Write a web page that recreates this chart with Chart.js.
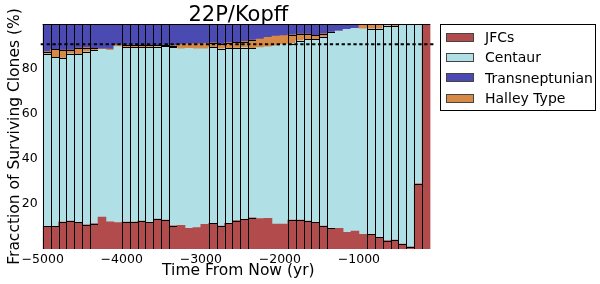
<!DOCTYPE html>
<html>
<head>
<meta charset="utf-8">
<script src="https://cdn.jsdelivr.net/npm/chart.js@4.4.1/dist/chart.umd.min.js"></script>
<style>
  html, body { margin: 0; padding: 0; background: #fff; }
  #wrap { position: relative; width: 600px; height: 284px; }
  #title {
    position: absolute; top: 4px; transform: translateX(-50%);
    font: 21px/21px "DejaVu Sans", sans-serif; color: #000; white-space: nowrap;
  }
  #legend {
    position: absolute; left: 440px; top: 24px; width: 154px; height: 85px;
    border: 1px solid #000; font: 14px "DejaVu Sans", sans-serif; color: #000;
  }
  .item { position: absolute; left: 5px; height: 20px; display: flex; align-items: center; white-space: nowrap; }
  .sw { width: 28px; height: 9px; border: 1px solid #444; box-sizing: border-box; margin-right: 11px; }
</style>
</head>
<body>
<div id="wrap">
  <canvas id="chart" width="600" height="284"></canvas>
  <div id="title">22P/Kopff</div>
  <div id="legend"></div>
</div>
<script>
// bin centres (yr from now), 100 yr bins
const binCenters = [-4950, -4850, -4750, -4650, -4550, -4450, -4350, -4250, -4150, -4050,
  -3950, -3850, -3750, -3650, -3550, -3450, -3350, -3250, -3150, -3050,
  -2950, -2850, -2750, -2650, -2550, -2450, -2350, -2250, -2150, -2050,
  -1950, -1850, -1750, -1650, -1550, -1450, -1350, -1250, -1150, -1050,
  -950, -850, -750, -650, -550, -450, -350, -250, -150];

// fraction of surviving clones (%)
const jfc = [10.1, 10.1, 12.0, 12.4, 11.9, 10.7, 11.3, 14.2, 12.1, 11.7,
  12.0, 12.0, 12.4, 11.9, 13.3, 12.9, 10.3, 10.5, 9.2, 9.5,
  11.0, 11.4, 10.2, 11.4, 12.6, 13.2, 13.8, 13.5, 13.6, 11.1,
  11.1, 12.9, 12.9, 12.4, 11.9, 10.2, 9.2, 9.2, 7.4, 8.0,
  6.5, 6.5, 5.2, 3.7, 4.0, 2.2, 1.0, 29.0, 100];
const centaur = [76.6, 75.1, 72.9, 74.3, 74.6, 76.9, 77.0, 74.5, 76.2, 78.3,
  77.6, 77.6, 77.2, 77.7, 76.5, 77.2, 79.3, 78.5, 80.0, 79.5,
  78.0, 78.2, 78.8, 77.8, 76.7, 76.3, 75.4, 76.0, 76.2, 79.2,
  79.7, 78.4, 79.7, 80.8, 81.3, 84.0, 87.1, 87.7, 90.2, 90.1,
  91.4, 91.4, 92.7, 95.6, 95.0, 97.6, 99.0, 71.0, 0];
const halley = [1.0, 3.5, 3.5, 1.7, 2.8, 1.9, 0.9, 0.3, 0.6, 0.6,
  1.0, 1.0, 0.9, 0.9, 0.7, 0.5, 0.8, 1.8, 2.0, 2.2,
  2.4, 2.0, 2.0, 2.5, 2.6, 2.7, 3.6, 3.8, 4.3, 4.3,
  4.0, 3.9, 2.9, 2.3, 1.8, 1.4, 0.1, 0, 0, 0,
  2.1, 2.1, 2.1, 0.7, 1.0, 0.2, 0, 0, 0];
const transneptunian = [12.3, 11.3, 11.6, 11.6, 10.7, 10.5, 10.8, 11.0, 11.1, 9.4,
  9.4, 9.4, 9.5, 9.5, 9.5, 9.4, 9.6, 9.2, 8.8, 8.8,
  8.6, 8.4, 9.0, 8.3, 8.1, 7.8, 7.2, 6.7, 5.9, 5.4,
  5.2, 4.8, 4.5, 4.5, 5.0, 4.4, 3.6, 3.1, 2.4, 1.9,
  0, 0, 0, 0, 0, 0, 0, 0, 0];

const xTicks = [-5000, -4000, -3000, -2000, -1000];
const yTicks = [20, 40, 60, 80];
const threshold = 91;
const legendOrder = ["JFCs", "Centaur", "Transneptunian", "Halley Type"];

// bars whose black outline survives at this resolution
const edgedBars = [0, 1, 2, 3, 4, 5, 6, 10, 11, 12, 13, 14, 15, 16, 21, 22, 23, 24, 25, 26,
  31, 32, 33, 34, 35, 36, 41, 42, 43, 44, 45, 46, 47, 48];

const FONT = "DejaVu Sans";
const toXY = (vals) => vals.map((v, i) => ({ x: binCenters[i], y: v }));

function series(label, vals, color) {
  return {
    label: label,
    data: toXY(vals),
    backgroundColor: color,
    borderWidth: 0,
    barPercentage: 1,
    categoryPercentage: 1,
  };
}

// crisp black outlines on the edged bars, taken from the bar elements
const barEdges = {
  id: "barEdges",
  afterDatasetsDraw(chart) {
    const ctx = chart.ctx;
    const metas = chart.data.datasets.map((_, d) => chart.getDatasetMeta(d));
    ctx.save();
    ctx.strokeStyle = "#000";
    ctx.lineWidth = 1;
    ctx.beginPath();
    edgedBars.forEach((i) => {
      let top = Infinity, bottom = -Infinity, left = null, right = null;
      metas.forEach((m) => {
        const bar = m.data[i];
        if (!bar) return;
        const { x, y, base, width } = bar.getProps(["x", "y", "base", "width"], true);
        if (Math.abs(base - y) < 0.5) return;
        left = x - width / 2;
        right = x + width / 2;
        top = Math.min(top, y);
        bottom = Math.max(bottom, base);
        const yy = Math.round(y) + 0.5;
        ctx.moveTo(Math.round(left), yy);
        ctx.lineTo(Math.round(right), yy);
      });
      if (left === null) return;
      const xx = Math.round(left) + 0.5;
      ctx.moveTo(xx, top);
      ctx.lineTo(xx, bottom);
    });
    ctx.stroke();
    ctx.restore();
  },
};

const refLines = {
  id: "refLines",
  afterDatasetsDraw(chart) {
    const { ctx, chartArea, scales } = chart;
    ctx.save();
    ctx.strokeStyle = "#000";
    ctx.lineWidth = 1;
    const yTop = Math.round(scales.y.getPixelForValue(100)) + 0.5;
    ctx.beginPath();
    ctx.moveTo(chartArea.left, yTop);
    ctx.lineTo(scales.x.getPixelForValue(-100), yTop);
    ctx.stroke();
    const yT = scales.y.getPixelForValue(threshold);
    ctx.lineWidth = 2;
    ctx.setLineDash([3.3, 2.6]);
    ctx.beginPath();
    ctx.moveTo(chartArea.left - 2, yT);
    ctx.lineTo(chartArea.right, yT);
    ctx.stroke();
    ctx.restore();
  },
};

const chart = new Chart(document.getElementById("chart").getContext("2d"), {
  type: "bar",
  data: {
    datasets: [
      series("JFCs", jfc, "#b24c4c"),
      series("Centaur", centaur, "#b0e0e6"),
      series("Halley Type", halley, "#d68a45"),
      series("Transneptunian", transneptunian, "#4a4ab2"),
    ],
  },
  options: {
    responsive: false,
    animation: false,
    devicePixelRatio: 1,
    layout: { padding: { top: 24, right: 166, left: 0, bottom: 0 } },
    plugins: {
      legend: { display: false },
      tooltip: { enabled: false },
      title: { display: false },
    },
    scales: {
      x: {
        type: "linear",
        offset: false,
        min: -5000,
        max: -50,
        stacked: true,
        grid: { display: false, drawTicks: false },
        border: { display: false },
        afterBuildTicks: (s) => { s.ticks = xTicks.map((v) => ({ value: v })); },
        afterFit: (s) => { s.height = 35; },
        ticks: {
          autoSkip: false,
          maxRotation: 0,
          padding: 3,
          color: "#000",
          font: { family: FONT, size: 12.5 },
          callback: (v) => String(v).replace("-", "\u2212"),
        },
        title: {
          display: true,
          text: "Time From Now (yr)",
          color: "#000",
          font: { family: FONT, size: 15.5 },
          padding: { top: 0, bottom: 4 },
        },
      },
      y: {
        min: 0,
        max: 100,
        stacked: true,
        grid: { display: false, drawTicks: false },
        border: { display: false },
        afterBuildTicks: (s) => { s.ticks = yTicks.map((v) => ({ value: v })); },
        afterFit: (s) => { s.width = 42.7; },
        ticks: {
          padding: 5,
          color: "#000",
          font: { family: FONT, size: 12.5 },
        },
        title: {
          display: true,
          text: "Fracction of Surviving Clones (%)",
          color: "#000",
          font: { family: FONT, size: 15.5 },
          padding: { top: 6, bottom: 0 },
        },
      },
    },
  },
  plugins: [barEdges, refLines],
});

// title centred over the plot area
const area = chart.chartArea;
document.getElementById("title").style.left = ((area.left + area.right) / 2) + "px";

// legend box, in the reference's order
const legend = document.getElementById("legend");
legendOrder.forEach((name, i) => {
  const ds = chart.data.datasets.find((d) => d.label === name);
  const item = document.createElement("div");
  item.className = "item";
  item.style.top = (2 + i * 20.4) + "px";
  const sw = document.createElement("span");
  sw.className = "sw";
  sw.style.background = ds.backgroundColor;
  item.appendChild(sw);
  item.appendChild(document.createTextNode(ds.label));
  legend.appendChild(item);
});
</script>
</body>
</html>
